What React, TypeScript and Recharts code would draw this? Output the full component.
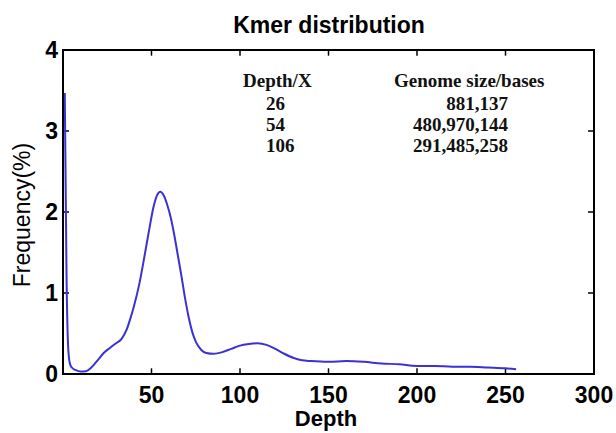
import React from 'react';
import { LineChart, Line, XAxis, YAxis, ReferenceArea, ReferenceLine } from 'recharts';

const depths = [1, 2, 3, 4, 5, 7, 10, 13, 16, 20, 23, 27, 30, 33, 36, 38, 40, 43, 46, 49, 51, 53, 55, 57, 59, 61, 63, 65, 67, 69, 71, 73, 75, 78, 81, 85, 90, 95, 100, 105, 110, 115, 120, 125, 130, 135, 140, 150, 160, 170, 180, 190, 200, 210, 220, 230, 240, 250, 256];
const frequencies = [3.47, 1.2, 0.3, 0.12, 0.08, 0.05, 0.03, 0.035, 0.08, 0.18, 0.26, 0.33, 0.38, 0.43, 0.55, 0.68, 0.83, 1.1, 1.45, 1.82, 2.05, 2.2, 2.25, 2.2, 2.08, 1.92, 1.7, 1.45, 1.2, 0.93, 0.7, 0.52, 0.4, 0.3, 0.26, 0.25, 0.27, 0.31, 0.35, 0.37, 0.38, 0.36, 0.31, 0.25, 0.2, 0.17, 0.16, 0.15, 0.16, 0.15, 0.13, 0.12, 0.1, 0.1, 0.09, 0.09, 0.08, 0.07, 0.06];

const xTicks = [50, 100, 150, 200, 250, 300];
const innerXTicks = [50, 100, 150, 200, 250];
const yTicks = [0, 1, 2, 3, 4];
const innerYTicks = [1, 2, 3];

const tableHeaders = ['Depth/X', 'Genome size/bases'];
const peakDepths = ['26', '54', '106'];
const genomeSizes = ['881,137', '480,970,144', '291,485,258'];

const data = depths.map((d, i) => ({ depth: d, freq: frequencies[i] }));

const X_MAX = 300;
const Y_MAX = 4;
const X_TICK_LEN = 3.4;
const Y_TICK_LEN = 0.07;

const SANS = "'Liberation Sans', Arial, sans-serif";
const SERIF = "'Liberation Serif', 'Times New Roman', serif";
const tickStyle = { fontFamily: SANS, fontSize: 23, fontWeight: 'bold', fill: '#000' };
const tableStyle = { fontFamily: SERIF, fontSize: 19, fontWeight: 'bold', fill: '#111' } as const;
const rowBaselines = [110, 131, 152];

export default function App() {
  return (
    <div style={{ position: 'absolute', left: 0, top: 0, width: 616, height: 433, background: '#fff' }}>
      <LineChart width={616} height={433} data={data} margin={{ top: 50, right: 22, bottom: 0, left: 0 }}>
        <XAxis
          dataKey="depth"
          type="number"
          domain={[0, X_MAX]}
          ticks={xTicks}
          height={59}
          stroke="#000"
          tickLine={false}
          tickSize={0}
          tickMargin={13}
          tick={tickStyle}
        />
        <YAxis
          type="number"
          domain={[0, Y_MAX]}
          ticks={yTicks}
          width={63}
          stroke="#000"
          tickLine={false}
          tickSize={0}
          tickMargin={5}
          tick={tickStyle}
        />
        <ReferenceArea x1={0} x2={X_MAX} y1={0} y2={Y_MAX} fill="none" fillOpacity={0} stroke="#000" strokeWidth={2} />
        {innerXTicks.map((t) => (
          <ReferenceLine
            key={'xb' + t}
            segment={[{ x: t, y: 0 }, { x: t, y: Y_TICK_LEN }]}
            stroke="#000"
            strokeWidth={1.5}
          />
        ))}
        {innerXTicks.map((t) => (
          <ReferenceLine
            key={'xt' + t}
            segment={[{ x: t, y: Y_MAX }, { x: t, y: Y_MAX - Y_TICK_LEN }]}
            stroke="#000"
            strokeWidth={1.5}
          />
        ))}
        {innerYTicks.map((t) => (
          <ReferenceLine
            key={'yl' + t}
            segment={[{ x: 0, y: t }, { x: X_TICK_LEN, y: t }]}
            stroke="#000"
            strokeWidth={1.5}
          />
        ))}
        {innerYTicks.map((t) => (
          <ReferenceLine
            key={'yr' + t}
            segment={[{ x: X_MAX, y: t }, { x: X_MAX - X_TICK_LEN, y: t }]}
            stroke="#000"
            strokeWidth={1.5}
          />
        ))}
        <Line
          type="monotone"
          dataKey="freq"
          stroke="#3a32d4"
          strokeWidth={2}
          dot={false}
          isAnimationActive={false}
        />
        <text x={329} y={33} textAnchor="middle" style={{ fontFamily: SANS, fontSize: 23, fontWeight: 'bold', fill: '#000' }}>
          Kmer distribution
        </text>
        <text x={326} y={426} textAnchor="middle" style={{ fontFamily: SANS, fontSize: 22, fontWeight: 'bold', fill: '#000' }}>
          Depth
        </text>
        <text
          x={29.5}
          y={215}
          textAnchor="middle"
          transform="rotate(-90, 29.5, 215)"
          style={{ fontFamily: SANS, fontSize: 23, fontWeight: 'normal', fill: '#000' }}
        >
          Frequency(%)
        </text>
        <text x={243} y={87} style={tableStyle}>{tableHeaders[0]}</text>
        <text x={394} y={87} style={tableStyle}>{tableHeaders[1]}</text>
        {peakDepths.map((d, i) => (
          <text key={'d' + i} x={266} y={rowBaselines[i]} style={tableStyle}>{d}</text>
        ))}
        {genomeSizes.map((g, i) => (
          <text key={'g' + i} x={508} y={rowBaselines[i]} textAnchor="end" style={tableStyle}>{g}</text>
        ))}
      </LineChart>
    </div>
  );
}
